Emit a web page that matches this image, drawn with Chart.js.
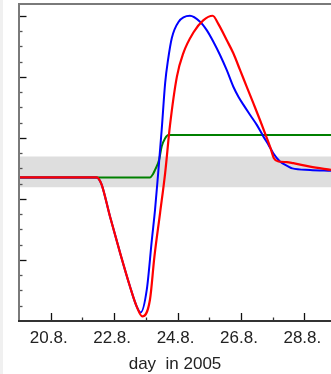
<!DOCTYPE html>
<html>
<head>
<meta charset="utf-8">
<script src="https://cdn.jsdelivr.net/npm/chart.js@4"></script>
<style>
    html, body { margin: 0; padding: 0; background: #fff; }
    canvas { display: block; }
</style>
</head>
<body>
<canvas id="levelChart" width="331" height="374"></canvas>
<script>
// Day of August 2005 (x) and level (y) for each run
const redDays    = [19.0, 21.45, 21.52, 21.61, 21.87, 22.19, 22.50, 22.71, 22.89, 23.13, 23.27, 23.45, 23.61, 23.76, 23.98, 24.18, 24.50, 24.81, 25.11, 25.29, 25.55, 25.76, 25.97, 26.18, 26.39, 26.60, 26.76, 26.92, 27.04, 27.18, 27.45, 27.65, 28.18, 28.84];
const redValues  = [9.41, 9.41, 9.30, 8.92, 6.85, 4.45, 2.26, 0.96, 0.30, 1.39, 4.20, 7.09, 9.71, 12.78, 16.01, 17.54, 18.90, 19.70, 20.00, 19.45, 18.41, 17.54, 16.45, 15.36, 14.27, 13.17, 12.30, 11.41, 10.67, 10.45, 10.41, 10.34, 10.12, 9.90];

const blueDays   = [19.0, 21.45, 21.52, 21.61, 21.87, 22.19, 22.50, 22.71, 22.84, 23.03, 23.19, 23.29, 23.39, 23.50, 23.61, 23.70, 23.82, 24.03, 24.39, 24.71, 24.92, 25.13, 25.34, 25.55, 25.76, 25.92, 26.08, 26.29, 26.50, 26.71, 26.87, 27.02, 27.23, 27.50, 27.62, 28.18, 28.84];
const blueValues = [9.41, 9.41, 9.30, 8.92, 6.85, 4.45, 2.26, 0.96, 0.56, 2.05, 5.32, 7.28, 9.71, 12.52, 15.60, 17.10, 18.54, 19.59, 20.00, 19.61, 19.06, 18.30, 17.43, 16.45, 15.35, 14.70, 14.16, 13.50, 12.85, 12.08, 11.54, 10.99, 10.45, 10.12, 10.00, 9.90, 9.84];

const greenDays   = [19.0, 23.13, 23.23, 23.29, 23.42, 23.50, 23.61, 23.71, 28.84];
const greenValues = [9.41, 9.41, 9.64, 9.90, 10.56, 11.43, 11.98, 12.19, 12.19];

// Shaded tolerance band
const bandLow  = 8.77;
const bandHigh = 10.77;

// Axis ranges
const dayMin = 19;
const dayMax = 28.84;
const levelMin = 0;
const levelMax = 20.77;

const toPoints = (xs, ys) => xs.map((x, i) => ({ x: x, y: ys[i] }));

// Inward tick marks plus the frame lines
const frameTicks = {
    id: 'frameTicks',
    beforeDraw(chart) {
        const ctx = chart.ctx;
        ctx.save();
        ctx.fillStyle = '#ffffff';
        ctx.fillRect(0, 0, chart.width, chart.height);
        ctx.fillStyle = '#f0f0f0';
        ctx.fillRect(0, 0, 3, chart.height);
        ctx.restore();
    },
    afterDatasetsDraw(chart) {
        const ctx = chart.ctx;
        const area = chart.chartArea;
        const xs = chart.scales.x;
        const ys = chart.scales.y;
        ctx.save();

        // y ticks, long every 4 units
        ys.ticks.forEach(t => {
            if (t.value <= levelMin) return;
            const py = Math.round(ys.getPixelForValue(t.value)) + 0.5;
            const major = t.value % 4 === 0;
            ctx.strokeStyle = major ? '#111' : '#555';
            ctx.lineWidth = 1.3;
            ctx.beginPath();
            ctx.moveTo(area.left, py);
            ctx.lineTo(area.left + (major ? 7.5 : 3.5), py);
            ctx.stroke();
        });

        // x ticks, long every 2 days
        xs.ticks.forEach(t => {
            if (t.value <= dayMin) return;
            const px = Math.round(xs.getPixelForValue(t.value)) + 0.5;
            const major = t.value % 2 === 0;
            ctx.strokeStyle = major ? '#111' : '#333';
            ctx.lineWidth = 1.3;
            ctx.beginPath();
            ctx.moveTo(px, area.bottom);
            ctx.lineTo(px, area.bottom - (major ? 8 : 3.5));
            ctx.stroke();
        });

        // frame: left and top grey, bottom dark
        ctx.lineWidth = 2;
        ctx.strokeStyle = '#7a7a7a';
        ctx.beginPath();
        ctx.moveTo(area.left, area.bottom);
        ctx.lineTo(area.left, area.top);
        ctx.lineTo(area.right, area.top);
        ctx.stroke();
        ctx.strokeStyle = '#333';
        ctx.beginPath();
        ctx.moveTo(area.left - 1, area.bottom);
        ctx.lineTo(area.right, area.bottom);
        ctx.stroke();
        ctx.restore();
    }
};

const lineStyle = {
    pointRadius: 0,
    fill: false,
    cubicInterpolationMode: 'monotone'
};

new Chart(document.getElementById('levelChart'), {
    type: 'line',
    data: {
        datasets: [
            Object.assign({ label: 'red', data: toPoints(redDays, redValues), borderColor: '#ff0000', borderWidth: 2.2 }, lineStyle),
            Object.assign({ label: 'blue', data: toPoints(blueDays, blueValues), borderColor: '#0000ff', borderWidth: 2 }, lineStyle),
            Object.assign({ label: 'green', data: toPoints(greenDays, greenValues), borderColor: '#008000', borderWidth: 2 }, lineStyle),
            {
                label: 'band high',
                data: [{ x: dayMin, y: bandHigh }, { x: dayMax, y: bandHigh }],
                borderWidth: 0,
                pointRadius: 0,
                backgroundColor: '#dedede',
                fill: '+1'
            },
            {
                label: 'band low',
                data: [{ x: dayMin, y: bandLow }, { x: dayMax, y: bandLow }],
                borderWidth: 0,
                pointRadius: 0,
                fill: false
            }
        ]
    },
    options: {
        responsive: false,
        animation: false,
        layout: { padding: { top: 4, right: 0, left: 0, bottom: 0 } },
        plugins: {
            legend: { display: false },
            tooltip: { enabled: false }
        },
        scales: {
            x: {
                type: 'linear',
                min: dayMin,
                max: dayMax,
                grid: { display: false, drawTicks: false },
                border: { display: false },
                afterFit: scale => {
                    scale.height = 53;
                    scale.paddingLeft = 0;
                    scale.paddingRight = 0;
                },
                ticks: {
                    stepSize: 1,
                    includeBounds: false,
                    autoSkip: false,
                    maxRotation: 0,
                    padding: 7,
                    labelOffset: -2,
                    color: '#222',
                    font: { family: 'Liberation Sans', size: 17 },
                    callback: value => (value % 2 === 0 ? value + '.8.' : '')
                },
                title: {
                    display: true,
                    text: 'day  in 2005',
                    color: '#222',
                    padding: 0,
                    font: { family: 'Liberation Sans', size: 17, lineHeight: 1.1 }
                }
            },
            y: {
                min: levelMin,
                max: levelMax,
                grid: { display: false, drawTicks: false },
                border: { display: false },
                afterFit: scale => { scale.width = 19; },
                ticks: { stepSize: 1, includeBounds: false, display: false }
            }
        }
    },
    plugins: [frameTicks]
});
</script>
</body>
</html>
